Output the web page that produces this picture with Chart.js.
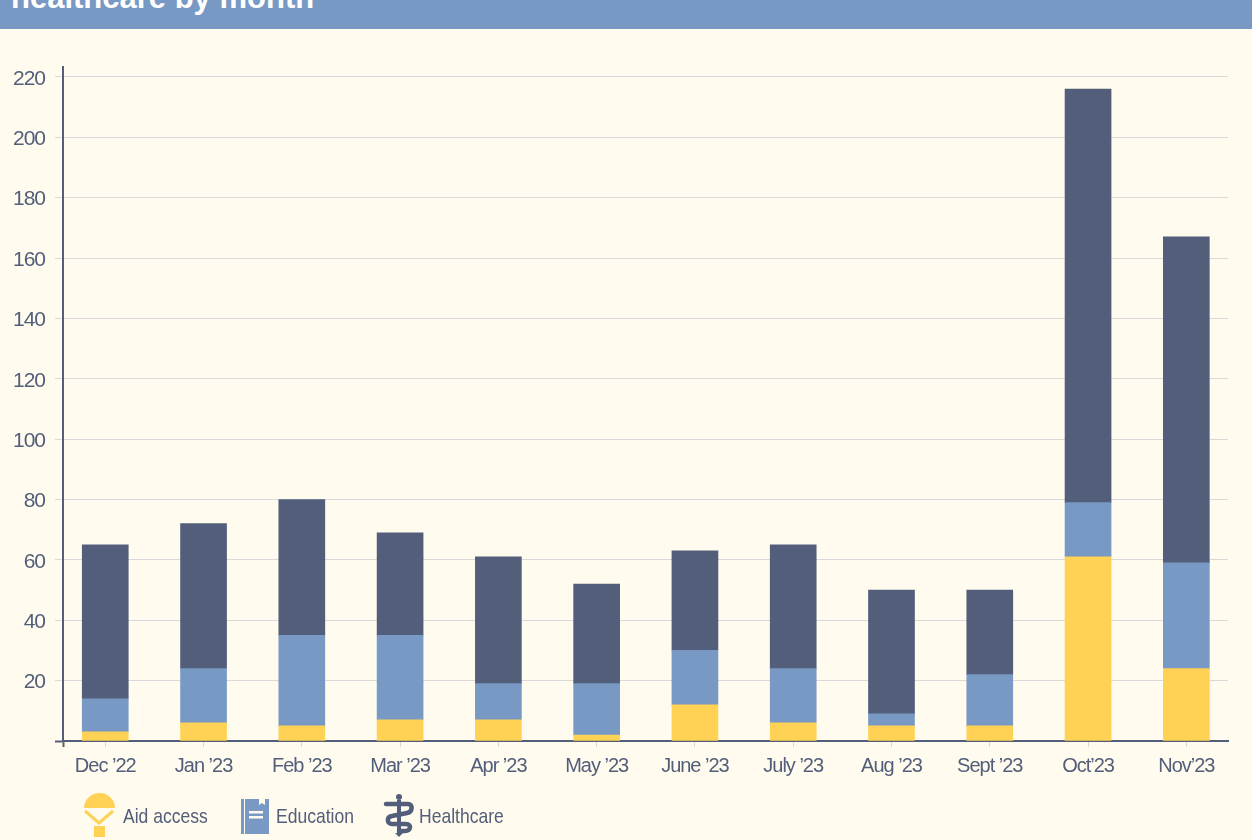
<!DOCTYPE html>
<html>
<head>
<meta charset="utf-8">
<title>healthcare by month</title>
<script src="https://cdn.jsdelivr.net/npm/chart.js@4"></script>
<style>
  html, body { margin: 0; padding: 0; background: #fffbee; overflow: hidden; }
  #wrap { position: relative; width: 1252px; height: 840px; overflow: hidden; }
  #header { position: absolute; left: 0; top: 0; width: 1252px; height: 29px; background: #7899c4; overflow: hidden; }
  #header div { position: absolute; left: 11px; top: -20px; font: bold 31px "Liberation Sans", sans-serif; color: #fff; white-space: nowrap; }
  #chart { position: absolute; left: 0; top: 0; }
  .item { position: absolute; top: 804px; font: 21px "Liberation Sans", sans-serif; color: #525e7a; white-space: nowrap; transform: scaleX(0.835); transform-origin: left center; }
  svg { position: absolute; }
</style>
</head>
<body>
<div id="wrap">
  <div id="header"><div>healthcare by month</div></div>
  <canvas id="chart" width="1252" height="840"></canvas>

  <svg style="left:84px;top:793px" width="32" height="45" viewBox="0 0 32 45">
    <path d="M0 15 A15.5 15 0 0 1 31 15 Z" fill="#ffd255"/>
    <path d="M1 18 L15 30 L29 18" fill="none" stroke="#ffd255" stroke-width="3"/>
    <rect x="10" y="33" width="11" height="11" fill="#ffd255"/>
  </svg>
  <span class="item" style="left:123px">Aid access</span>

  <svg style="left:240px;top:798px" width="30" height="37" viewBox="0 0 30 37">
    <path d="M1 1 H19 V7 L22 5 L25 7 V1 H29 V36 H1 Z" fill="#7899c4"/>
    <rect x="4" y="1" width="1" height="35" fill="#fffbee"/>
    <rect x="9" y="13" width="14" height="2.5" fill="#fffbee"/>
    <rect x="9" y="18" width="14" height="2.5" fill="#fffbee"/>
  </svg>
  <span class="item" style="left:276px">Education</span>

  <svg style="left:382px;top:793px" width="34" height="45" viewBox="0 0 34 45">
    <circle cx="17" cy="4" r="3" fill="#525e7a"/>
    <path d="M4 11 H26 C31 11 31 19 25 20 L10 23 C4 24 5 31 10 31 H24 C30 31 29 38 23 38 H17" fill="none" stroke="#525e7a" stroke-width="4.5" stroke-linecap="round"/>
    <path d="M17 7 V42" stroke="#525e7a" stroke-width="4"/>
    <path d="M13 40 L17 44 L21 40 Z" fill="#525e7a"/>
  </svg>
  <span class="item" style="left:419px">Healthcare</span>
</div>

<script>
const months = ["Dec ’22", "Jan ’23", "Feb ’23", "Mar ’23", "Apr ’23", "May ’23", "June ’23", "July ’23", "Aug ’23", "Sept ’23", "Oct’23", "Nov’23"];
const aidAccess  = [3, 6, 5, 7, 7, 2, 12, 6, 5, 5, 61, 24];
const education  = [11, 18, 30, 28, 12, 17, 18, 18, 4, 17, 18, 35];
const healthcare = [51, 48, 45, 34, 42, 33, 33, 41, 41, 28, 137, 108];
const yTicks = [0, 20, 40, 60, 80, 100, 120, 140, 160, 180, 200, 220];

const dark = "#525e7a";
const xMin = -0.43;

// months sit on a linear x axis, the axis line starts a bit right of the first slot
function points(values) {
  return values.map((v, i) => ({ x: i, y: v }));
}

function series(label, values, color) {
  return {
    label: label,
    data: points(values),
    backgroundColor: color,
    borderWidth: 0,
    barThickness: 46
  };
}

// no condensed font installed, so tighten the tick labels instead
const tightText = {
  id: "tightText",
  beforeDraw: chart => { chart.ctx.letterSpacing = "-1px"; }
};

new Chart(document.getElementById("chart").getContext("2d"), {
  type: "bar",
  plugins: [tightText],
  data: {
    datasets: [
      series("Aid access", aidAccess, "#ffd255"),
      series("Education", education, "#7899c4"),
      series("Healthcare", healthcare, dark)
    ]
  },
  options: {
    responsive: false,
    animation: false,
    layout: { padding: { left: 0, top: 67, right: 24, bottom: 0 } },
    plugins: { legend: { display: false }, title: { display: false }, tooltip: { enabled: false } },
    scales: {
      x: {
        type: "linear",
        stacked: true,
        offset: false,
        min: xMin,
        max: 11.424,
        afterBuildTicks: axis => {
          axis.ticks = [{ value: xMin }].concat(months.map((m, i) => ({ value: i })));
        },
        afterFit: axis => { axis.height = 99; },
        border: { color: dark, width: 2 },
        grid: {
          offset: false,
          drawOnChartArea: false,
          tickLength: 6,
          tickWidth: ctx => (ctx.tick && ctx.tick.value === xMin ? 2 : 1),
          tickColor: ctx => (ctx.tick && ctx.tick.value === xMin ? dark : "#d9d9d9")
        },
        ticks: {
          autoSkip: false,
          maxRotation: 0,
          padding: 7,
          color: dark,
          font: { family: "'Liberation Sans', sans-serif", size: 20 },
          callback: value => (value === xMin ? "" : months[value])
        }
      },
      y: {
        stacked: true,
        min: 0,
        max: 223.3,
        afterBuildTicks: axis => {
          axis.ticks = yTicks.map(v => ({ value: v }));
        },
        afterFit: axis => { axis.width = 63; },
        border: { color: dark, width: 2 },
        grid: {
          color: "#d9d9d9",
          lineWidth: 1,
          tickLength: 8,
          tickColor: ctx => (ctx.tick && ctx.tick.value === 0 ? dark : "#d9d9d9"),
          tickWidth: ctx => (ctx.tick && ctx.tick.value === 0 ? 2 : 1)
        },
        ticks: {
          padding: 10,
          labelOffset: 2,
          color: dark,
          font: { family: "'Liberation Sans', sans-serif", size: 21 },
          callback: value => (value === 0 ? "" : value)
        }
      }
    }
  }
});
</script>
</body>
</html>
